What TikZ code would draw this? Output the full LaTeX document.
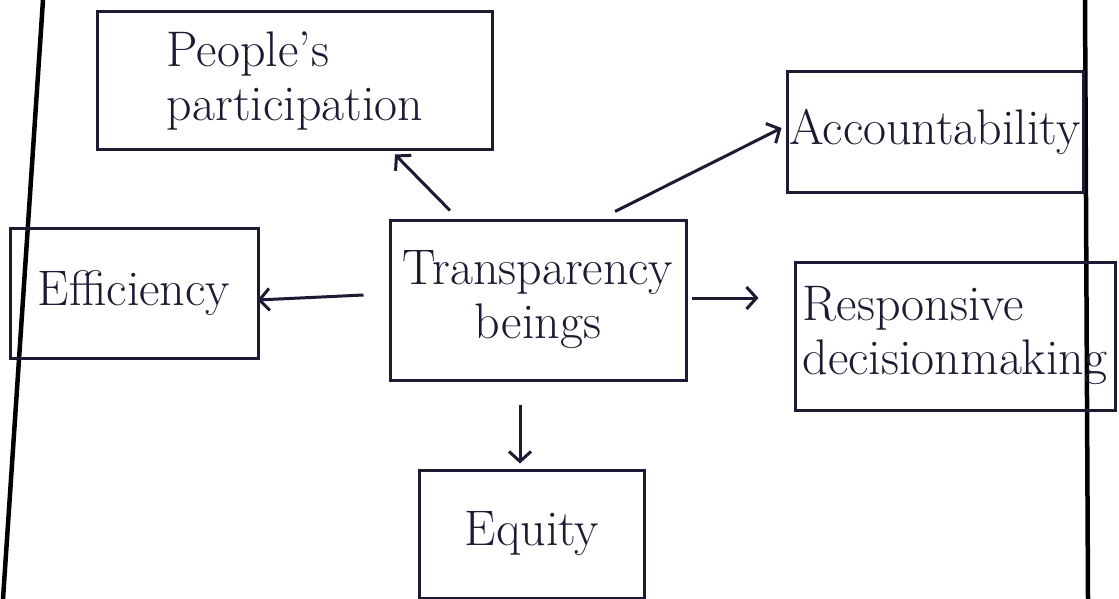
\documentclass[tikz,border=0pt]{standalone}
\usetikzlibrary{arrows.meta}
\definecolor{ink}{HTML}{1B1B33}
\tikzset{
  box/.style={draw=ink, line width=3pt, inner sep=0pt, text=ink,
    font=\fontsize{50}{54}\selectfont},
  arr/.style={draw=ink, line width=3pt, -{Straight Barb[length=10pt,width=22pt,line width=3pt]}},
  rule/.style={draw=black, line width=4.5pt}
}
\begin{document}
\begin{tikzpicture}[x=1pt,y=-1pt]
\useasboundingbox[fill=white] (0,0) rectangle (1119,599);
% page margin lines
\coordinate (L1) at (43,0);
\coordinate (L2) at (3,599);
\coordinate (R1) at (1085,0);
\coordinate (R2) at (1088,599);
\draw[rule] (L1) -- (L2);
\draw[rule] (R1) -- (R2);
% boxes
\node[box, minimum width=395pt, minimum height=138pt, align=left] (P) at (295,81) {People's\\participation};
\node[box, minimum width=296pt, minimum height=120pt] (A) at (935,132) {Accountability};
\node[box, minimum width=248pt, minimum height=130pt] (E) at (134,293) {Efficiency};
\node[box, minimum width=296pt, minimum height=160pt, align=center] (T) at (538,300) {Transparency\\beings};
\node[box, minimum width=320pt, minimum height=148pt, align=left] (R) at (955,336) {Responsive\\decisionmaking};
\node[box, minimum width=225pt, minimum height=128pt] (Q) at (532,534) {Equity};
% arrows
\draw[arr] ([xshift=-88pt,yshift=8pt]T.north) -- ([xshift=100pt,yshift=-3pt]P.south);
\draw[arr] ([xshift=77pt,yshift=7pt]T.north) -- ([xshift=-4pt,yshift=4pt]A.west);
\draw[arr] ([xshift=-25pt,yshift=5pt]T.west) -- ([xshift=-2pt,yshift=-7pt]E.east);
\draw[arr] ([xshift=4pt,yshift=2pt]T.east) -- ([xshift=-35pt,yshift=38pt]R.west);
\draw[arr] ([xshift=-18pt,yshift=-23pt]T.south) -- ([xshift=-12pt,yshift=5pt]Q.north);
\end{tikzpicture}
\end{document}
